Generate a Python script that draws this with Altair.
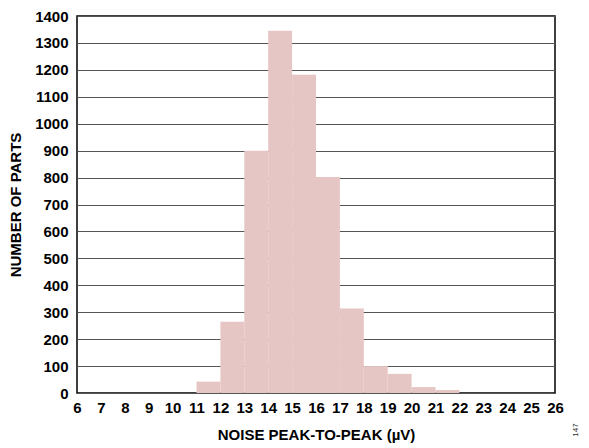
import altair as alt
import pandas as pd

bin_start = [11, 12, 13, 14, 15, 16, 17, 18, 19, 20, 21]
counts = [42, 265, 900, 1345, 1182, 802, 314, 100, 71, 22, 11]

df = pd.DataFrame({"start": bin_start, "end": [b + 1 for b in bin_start], "count": counts})

x_ticks = list(range(6, 27))
y_ticks = list(range(0, 1401, 100))

bars = alt.Chart(df).mark_rect(color="#E6C6C5").encode(
    x=alt.X("start:Q", scale=alt.Scale(domain=[6, 26], nice=False),
            axis=alt.Axis(values=x_ticks, title="NOISE PEAK-TO-PEAK (µV)", grid=False,
                          ticks=False, labelPadding=7, titlePadding=12, domain=False,
                          labelOverlap=False, labelFlush=False, format="d")),
    x2="end:Q",
    y=alt.Y("count:Q", scale=alt.Scale(domain=[0, 1400], nice=False),
            axis=alt.Axis(values=y_ticks, title="NUMBER OF PARTS", grid=True,
                          gridColor="#555555", gridWidth=1.2, gridOpacity=1,
                          ticks=False, labelPadding=9, titlePadding=11, domain=False,
                          format="d", labelOverlap=False, labelFlush=False)),
    y2=alt.datum(0),
)

note = alt.Chart(pd.DataFrame({"t": ["147"]})).mark_text(
    angle=270, fontSize=8, font="Liberation Sans", color="#333333", align="center", baseline="middle"
).encode(x=alt.value(499), y=alt.value(414), text="t:N")

chart = alt.layer(bars, note).properties(
    width=478, height=377,
    padding={"left": 69, "top": 8, "right": 26, "bottom": 50},
    autosize=alt.AutoSizeParams(type="none"),
).configure_view(
    stroke="black", strokeWidth=1.5
).configure_axis(
    labelFont="Liberation Sans", labelFontSize=15, labelFontWeight="bold", labelColor="black",
    titleFont="Liberation Sans", titleFontSize=15, titleFontWeight="bold", titleColor="black",
)

chart.save("out.html", embed_options={"renderer": "svg", "actions": False})
